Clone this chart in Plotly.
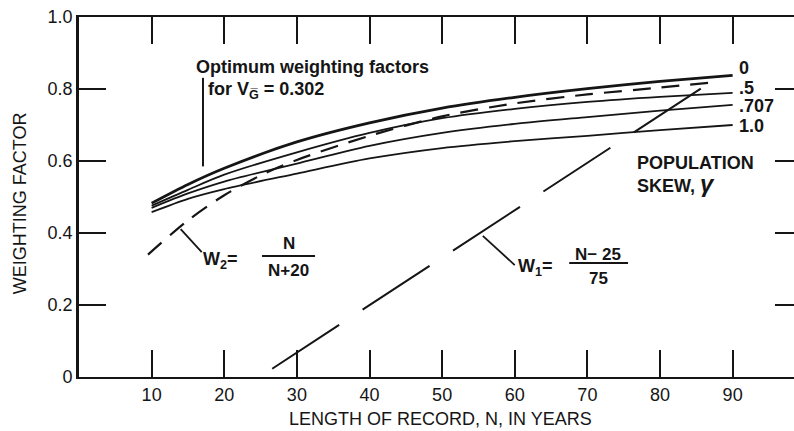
import plotly.graph_objects as go

# ---------------- data ----------------
N_opt = [10, 15, 20, 30, 40, 50, 60, 70, 80, 90]
w_skew_0 = [0.483, 0.535, 0.580, 0.653, 0.706, 0.747, 0.777, 0.801, 0.821, 0.838]
w_skew_05 = [0.476, 0.520, 0.562, 0.624, 0.678, 0.719, 0.745, 0.764, 0.778, 0.789]
w_skew_0707 = [0.470, 0.510, 0.543, 0.593, 0.642, 0.678, 0.703, 0.722, 0.740, 0.756]
w_skew_1 = [0.458, 0.495, 0.522, 0.565, 0.607, 0.636, 0.655, 0.670, 0.686, 0.700]

N_w2 = [9.5, 15, 20, 25, 30, 40, 50, 60, 70, 80, 88]
w2 = [0.340, 0.435, 0.505, 0.560, 0.603, 0.670, 0.724, 0.760, 0.785, 0.804, 0.820]

N_w1 = [26.6, 88.2]
w1 = [0.023, 0.835]

x_ticks = [10, 20, 30, 40, 50, 60, 70, 80, 90]
y_ticks = [0, 0.2, 0.4, 0.6, 0.8, 1.0]
y_tick_text = ["0", "0.2", "0.4", "0.6", "0.8", "1.0"]
skew_labels = ["0", ".5", ".707", "1.0"]

INK = "#151515"
FONT = "Liberation Sans, Arial, sans-serif"

fig = go.Figure()

for ys, wdt in [(w_skew_0, 2.8), (w_skew_05, 1.8), (w_skew_0707, 1.8), (w_skew_1, 1.8)]:
    fig.add_trace(go.Scatter(x=N_opt, y=ys, mode="lines",
                             line=dict(color=INK, width=wdt, shape="spline", smoothing=0.8),
                             hoverinfo="skip", showlegend=False))

fig.add_trace(go.Scatter(x=N_w2, y=w2, mode="lines",
                         line=dict(color=INK, width=2.2, dash="18px,11px", shape="spline", smoothing=0.8),
                         hoverinfo="skip", showlegend=False))
fig.add_trace(go.Scatter(x=N_w1, y=w1, mode="lines",
                         line=dict(color=INK, width=2.0, dash="80px,28px"),
                         hoverinfo="skip", showlegend=False))
# trace carrying the right-side tick axis
fig.add_trace(go.Scatter(x=[None], y=[None], yaxis="y2", hoverinfo="skip", showlegend=False))

# ---------------- annotations ----------------
ann = []
def T(x, y, text, size=18, bold=True, xanchor="left", **kw):
    t = f"<b>{text}</b>" if bold else text
    ann.append(dict(x=x, y=y, xref="x", yref="y", text=t, showarrow=False,
                    xanchor=xanchor, yanchor="middle",
                    font=dict(family=FONT, size=size, color=INK), **kw))

T(15.9, 0.862, "Optimum weighting factors", size=18)
T(17.5, 0.797, "for V<sub>G\u0305</sub> = 0.302", size=18)

label_y = [0.858, 0.803, 0.754, 0.697]
for lab, yy in zip(skew_labels, label_y):
    T(90.6, yy, lab, size=18)

T(76.6, 0.594, "POPULATION", size=18)
T(76.6, 0.537, "SKEW, <span style='font-size:24px'><i>γ</i></span>", size=18)

# W2 label
T(16.8, 0.325, "W<sub>2</sub>=", size=18)
T(28.85, 0.372, "N", size=17, xanchor="center")
T(28.85, 0.297, "N+20", size=17, xanchor="center")
# W1 label
T(60.2, 0.305, "W<sub>1</sub>=", size=18)
T(71.5, 0.339, "N\u2212 25", size=17, xanchor="center")
T(71.5, 0.275, "75", size=17, xanchor="center")

# axis titles as annotations
ann.append(dict(x=-0.0825, y=0.483, xref="paper", yref="paper", text="WEIGHTING FACTOR",
                textangle=-90, showarrow=False, xanchor="center", yanchor="middle",
                font=dict(family=FONT, size=18, color=INK)))
ann.append(dict(x=0.506, y=-0.117, xref="paper", yref="paper",
                text="LENGTH OF RECORD, N, IN YEARS", showarrow=False,
                xanchor="center", yanchor="middle",
                font=dict(family=FONT, size=18, color=INK)))

shapes = [
    # leader for the optimum-weights note
    dict(type="line", xref="x", yref="y", x0=17.07, y0=0.831, x1=17.07, y1=0.585,
         line=dict(color=INK, width=2)),
    # W2 leader and fraction bar
    dict(type="line", xref="x", yref="y", x0=14.0, y0=0.411, x1=16.9, y1=0.347,
         line=dict(color=INK, width=1.8)),
    dict(type="line", xref="x", yref="y", x0=25.2, y0=0.336, x1=32.5, y1=0.336,
         line=dict(color=INK, width=2)),
    # W1 leader and fraction bar
    dict(type="line", xref="x", yref="y", x0=55.6, y0=0.392, x1=60.0, y1=0.311,
         line=dict(color=INK, width=1.8)),
    dict(type="line", xref="x", yref="y", x0=67.5, y0=0.317, x1=75.6, y1=0.317,
         line=dict(color=INK, width=2)),
]

fig.update_layout(
    width=794, height=431,
    margin=dict(l=79, r=0, t=17, b=54),
    paper_bgcolor="white", plot_bgcolor="white",
    font=dict(family=FONT, size=18, color=INK),
    annotations=ann, shapes=shapes,
    xaxis=dict(range=[0, 98.45], tickvals=x_ticks, ticks="inside", ticklen=27, tickwidth=2,
               tickcolor=INK, showline=True, linecolor=INK, linewidth=2.2, mirror="ticks",
               showgrid=False, zeroline=False, tickfont=dict(size=18, color=INK)),
    yaxis=dict(range=[0, 1], tickvals=y_ticks, ticktext=y_tick_text, ticks="inside",
               ticklen=27, tickwidth=2, tickcolor=INK, showline=True, linecolor=INK,
               linewidth=2.8, mirror=False, showgrid=False, zeroline=False,
               tickfont=dict(size=18, color=INK)),
    yaxis2=dict(range=[0, 1], overlaying="y", side="right", tickvals=[0.2, 0.4, 0.6, 0.8],
                ticks="inside", ticklen=19, tickwidth=2, tickcolor=INK, showline=False,
                showticklabels=False, showgrid=False, zeroline=False),
)

fig.write_html("out.html", config={"displayModeBar": False},
               post_script="document.body.style.margin='0';document.body.style.overflow='hidden';")
